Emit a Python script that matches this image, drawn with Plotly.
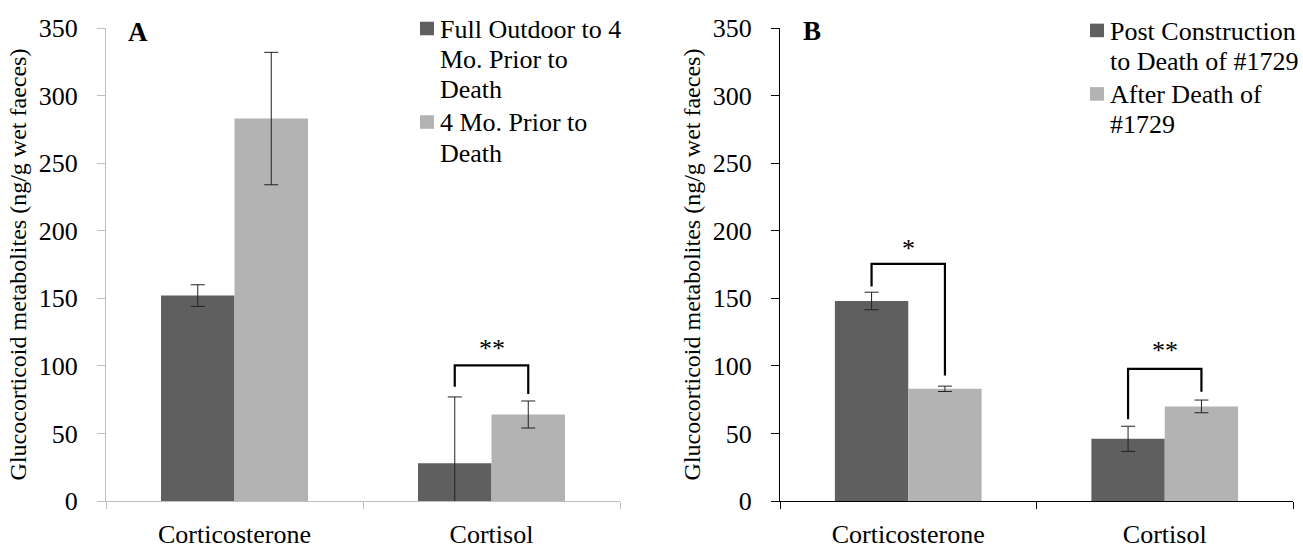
import plotly.graph_objects as go

# ---------------- data ----------------
categories = ["Corticosterone", "Cortisol"]

# Panel A
a_names = ["Full Outdoor to 4 Mo. Prior to Death", "4 Mo. Prior to Death"]
a_legend_lines = [["Full Outdoor to 4", "Mo. Prior to", "Death"], ["4 Mo. Prior to", "Death"]]
a_s1 = [152, 28]
a_s1_err = [8, 49]
a_s2 = [283, 64]
a_s2_err = [49, 10]

# Panel B
b_names = ["Post Construction to Death of #1729", "After Death of #1729"]
b_legend_lines = [["Post Construction", "to Death of #1729"], ["After Death of", "#1729"]]
b_s1 = [148, 46]
b_s1_err = [6.5, 9.3]
b_s2 = [83, 70]
b_s2_err = [2, 4.7]

# significance brackets: (panel, category index, top, left foot, right foot, label, label y)
brackets = [
    ("A", 1, 100.3, 84.5, 79.2, "**", 113),
    ("B", 0, 175.4, 158.7, 92.8, "*", 187),
    ("B", 1, 97.8, 60.5, 80.9, "**", 111),
]

y_ticks = [0, 50, 100, 150, 200, 250, 300, 350]

# ---------------- style ----------------
DARK = "#5f5f5f"
LIGHT = "#b3b3b3"
FONT = "Liberation Serif"
W, H = 1303, 559
PL, PR, PT, PB = 106, 10, 28, 43
BARGAP = 0.428


def px_x(p):
    return (p - PL) / (W - PL - PR)


def px_y(p):
    return (H - PB - p) / (H - PT - PB)


fig = go.Figure()


def add_bar(name, vals, errs, color, xa, ya):
    fig.add_trace(go.Bar(
        x=categories, y=vals, name=name,
        marker=dict(color=color, line=dict(width=0)),
        error_y=dict(type="data", array=errs, visible=True,
                     color="#222222", thickness=1, width=7),
        xaxis=xa, yaxis=ya, showlegend=False,
    ))


add_bar(a_names[0], a_s1, a_s1_err, DARK, "x", "y")
add_bar(a_names[1], a_s2, a_s2_err, LIGHT, "x", "y")
add_bar(b_names[0], b_s1, b_s1_err, DARK, "x2", "y2")
add_bar(b_names[1], b_s2, b_s2_err, LIGHT, "x2", "y2")

offset = (1 - BARGAP) / 4
shapes = []
annotations = []
for panel, ci, top, lf, rf, lab, ly in brackets:
    xr, yr = ("x", "y") if panel == "A" else ("x2", "y2")
    xl, xrr = ci - offset, ci + offset
    path = f"M{xl},{lf} L{xl},{top} L{xrr},{top} L{xrr},{rf}"
    shapes.append(dict(type="path", path=path, xref=xr, yref=yr,
                       line=dict(color="black", width=2.2)))
    annotations.append(dict(text=lab, x=ci, y=ly, xref=xr, yref=yr,
                            showarrow=False, yanchor="middle",
                            font=dict(family=FONT, size=26, color="black")))

# panel letters
annotations.append(dict(text="<b>A</b>", x=px_x(137.5), y=px_y(32), xref="paper", yref="paper",
                        showarrow=False, xanchor="center", yanchor="middle",
                        font=dict(family=FONT, size=27, color="black")))
annotations.append(dict(text="<b>B</b>", x=px_x(812), y=px_y(31), xref="paper", yref="paper",
                        showarrow=False, xanchor="center", yanchor="middle",
                        font=dict(family=FONT, size=27, color="black")))

# legends (Excel-like: tight line spacing, symbol at first line)
LINE = 31
ENTRY_GAP = 34.5
SQ = 14


def add_legend(entries, colors, sq_left, top_line):
    y = top_line
    for lines, col in zip(entries, colors):
        shapes.append(dict(type="rect", xref="paper", yref="paper",
                           x0=px_x(sq_left), x1=px_x(sq_left + SQ),
                           y0=px_y(y - 1 - SQ / 2), y1=px_y(y - 1 + SQ / 2),
                           fillcolor=col, line=dict(width=0)))
        for k, t in enumerate(lines):
            annotations.append(dict(text=t, x=px_x(sq_left + SQ + 4), y=px_y(y + k * LINE),
                                    xref="paper", yref="paper", showarrow=False,
                                    xanchor="left", yanchor="middle",
                                    font=dict(family=FONT, size=26, color="black")))
        y += (len(lines) - 1) * LINE + ENTRY_GAP


add_legend(a_legend_lines, [DARK, LIGHT], 420, 29.5)
add_legend(b_legend_lines, [DARK, LIGHT], 1090, 31.5)

ytitle = "Glucocorticoid metabolites (ng/g wet faeces)"


def xaxis_cfg(domain, lc):
    return dict(domain=domain, range=[-0.5, 1.5], showline=True, linecolor=lc, linewidth=1,
                ticks="outside", tickson="boundaries", ticklen=7, tickcolor=lc,
                showgrid=False, zeroline=False, ticklabelstandoff=10,
                tickfont=dict(family=FONT, size=26, color="black"))


def yaxis_cfg(anchor, lc):
    return dict(anchor=anchor, range=[0, 350], tickvals=y_ticks, showline=True, linecolor=lc,
                linewidth=1, ticks="outside", ticklen=8, tickcolor=lc, showgrid=False,
                zeroline=False, ticklabelstandoff=14,
                tickfont=dict(family=FONT, size=26, color="black"),
                title=dict(text=ytitle, standoff=5, font=dict(family=FONT, size=24, color="black")))


fig.update_layout(
    width=W, height=H,
    margin=dict(l=PL, r=PR, t=PT, b=PB),
    paper_bgcolor="white", plot_bgcolor="white",
    barmode="group", bargap=BARGAP, bargroupgap=0,
    xaxis=xaxis_cfg([px_x(106), px_x(620)], "#bfbfbf"),
    yaxis=yaxis_cfg("x", "#bfbfbf"),
    xaxis2=xaxis_cfg([px_x(780), px_x(1293)], "black"),
    yaxis2=yaxis_cfg("x2", "black"),
    shapes=shapes, annotations=annotations,
    showlegend=False,
)

fig.write_html(
    "out.html", config={"displayModeBar": False},
    post_script=("document.documentElement.style.margin='0';"
                 "document.documentElement.style.overflow='hidden';"
                 "document.body.style.margin='0';document.body.style.padding='0';"
                 "document.body.style.overflow='hidden';"),
)
